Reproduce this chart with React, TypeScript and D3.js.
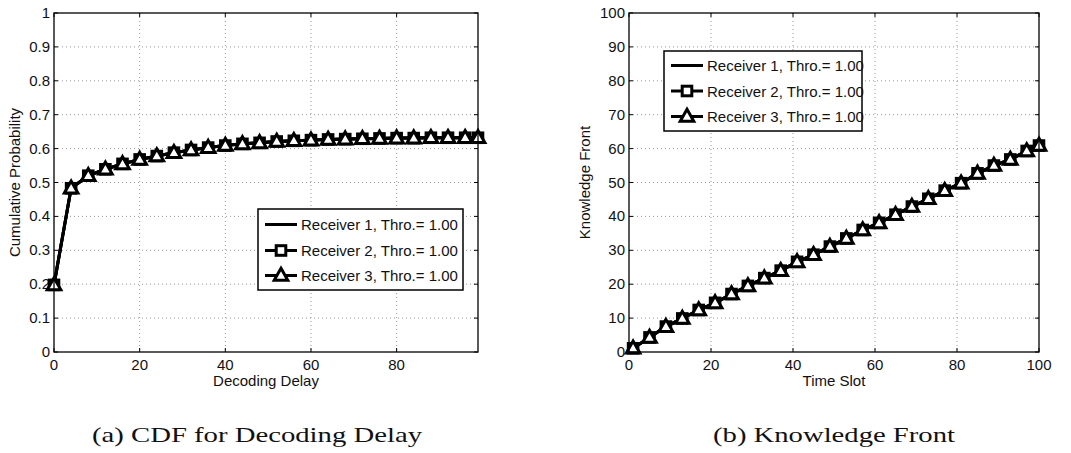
import React from 'react';
import * as d3 from 'd3';

// ---------- data ----------
const cdfDelay = [0, 4, 8, 12, 16, 20, 24, 28, 32, 36, 40, 44, 48, 52, 56, 60, 64, 68, 72, 76, 80, 84, 88, 92, 96, 99];
const cdfProb = [0.198, 0.483, 0.52, 0.539, 0.555, 0.568, 0.578, 0.588, 0.596, 0.603, 0.609, 0.614, 0.617, 0.621, 0.623, 0.625, 0.627, 0.628, 0.629, 0.63, 0.631, 0.631, 0.632, 0.632, 0.632, 0.632];
const timeSlots = [1, 5, 9, 13, 17, 21, 25, 29, 33, 37, 41, 45, 49, 53, 57, 61, 65, 69, 73, 77, 81, 85, 89, 93, 97, 100];
const knowledgeFront = [1.1, 4.3, 7.5, 9.9, 12.4, 14.5, 17.1, 19.5, 21.8, 24.0, 26.6, 28.7, 31.1, 33.5, 36.0, 38.1, 40.5, 42.9, 45.2, 47.6, 49.8, 52.7, 55.0, 56.8, 59.3, 60.9];
const cdfXTicks = [0, 20, 40, 60, 80];
const cdfYTicks = [0, 0.1, 0.2, 0.3, 0.4, 0.5, 0.6, 0.7, 0.8, 0.9, 1];
const kfXTicks = [0, 20, 40, 60, 80, 100];
const kfYTicks = [0, 10, 20, 30, 40, 50, 60, 70, 80, 90, 100];
const seriesNames = ['Receiver 1, Thro.= 1.00', 'Receiver 2, Thro.= 1.00', 'Receiver 3, Thro.= 1.00'];
const seriesMarkers = ['none', 'square', 'triangle'];

const SANS = "'Liberation Sans', Arial, Helvetica, sans-serif";
const SERIF = "'Liberation Serif', 'Times New Roman', serif";
const FS = 15;

function Marker({ kind, x, y }: { kind: string; x: number; y: number }) {
  if (kind === 'square')
    return <rect x={x - 4.8} y={y - 4.8} width={9.6} height={9.6} fill="#fff" stroke="#000" strokeWidth={3} />;
  if (kind === 'triangle')
    return <path d={`M${x},${y - 7.2} L${x + 6.8},${y + 4.8} L${x - 6.8},${y + 4.8} Z`} fill="#fff" stroke="#000" strokeWidth={3} strokeLinejoin="miter" />;
  return null;
}

type PanelProps = {
  xs: number[]; ys: number[]; xDomain: [number, number]; yDomain: [number, number];
  xTicks: number[]; yTicks: number[]; fmtY: (v: number) => string;
  box: { x0: number; x1: number; y0: number; y1: number };
  xLabel: string; yLabel: string; yLabelX: number;
  legend: { x: number; y: number; w: number; h: number; rows: number[] };
  caption: string; captionX: number; captionW: number;
};

function Panel(p: PanelProps) {
  const x = d3.scaleLinear().domain(p.xDomain).range([p.box.x0, p.box.x1]);
  const y = d3.scaleLinear().domain(p.yDomain).range([p.box.y1, p.box.y0]);
  const pts = p.xs.map((v, i) => [x(v), y(p.ys[i])] as [number, number]);
  const line = d3.line()(pts) || '';
  const { x0, x1, y0, y1 } = p.box;
  const lg = p.legend;
  return (
    <g>
      {/* grid */}
      {p.xTicks.filter(t => x(t) > x0 + 0.5 && x(t) < x1 - 0.5).map(t => (
        <line key={'gx' + t} x1={x(t)} x2={x(t)} y1={y0} y2={y1} stroke="#999" strokeWidth={1} strokeDasharray="1,3" />
      ))}
      {p.yTicks.filter(t => y(t) > y0 + 0.5 && y(t) < y1 - 0.5).map(t => (
        <line key={'gy' + t} x1={x0} x2={x1} y1={y(t)} y2={y(t)} stroke="#999" strokeWidth={1} strokeDasharray="1,3" />
      ))}
      {/* ticks */}
      {p.xTicks.map(t => (
        <g key={'tx' + t}>
          <line x1={x(t)} x2={x(t)} y1={y1} y2={y1 - 4} stroke="#000" />
          <line x1={x(t)} x2={x(t)} y1={y0} y2={y0 + 4} stroke="#000" />
          <text x={x(t)} y={y1 + 18} fontSize={FS} fontFamily={SANS} textAnchor="middle" fill="#111">{t}</text>
        </g>
      ))}
      {p.yTicks.map(t => (
        <g key={'ty' + t}>
          <line x1={x0} x2={x0 + 4} y1={y(t)} y2={y(t)} stroke="#000" />
          <line x1={x1} x2={x1 - 4} y1={y(t)} y2={y(t)} stroke="#000" />
          <text x={x0 - 4} y={y(t) + 5} fontSize={FS} fontFamily={SANS} textAnchor="end" fill="#111">{p.fmtY(t)}</text>
        </g>
      ))}
      {/* series: all three identical */}
      <path d={line} fill="none" stroke="#000" strokeWidth={3} strokeLinejoin="round" />
      <path d={line} fill="none" stroke="#000" strokeWidth={3} strokeLinejoin="round" />
      {pts.map((q, i) => <Marker key={'s' + i} kind="square" x={q[0]} y={q[1]} />)}
      <path d={line} fill="none" stroke="#000" strokeWidth={3} strokeLinejoin="round" />
      {pts.map((q, i) => <Marker key={'t' + i} kind="triangle" x={q[0]} y={q[1]} />)}
      {/* box */}
      <rect x={x0} y={y0} width={x1 - x0} height={y1 - y0} fill="none" stroke="#000" strokeWidth={1.3} />
      {/* axis labels */}
      <text x={(x0 + x1) / 2} y={y1 + 34} fontSize={FS} fontFamily={SANS} textAnchor="middle" fill="#111">{p.xLabel}</text>
      <text transform={`translate(${p.yLabelX},${(y0 + y1) / 2}) rotate(-90)`} fontSize={FS} fontFamily={SANS} textAnchor="middle" fill="#111">{p.yLabel}</text>
      {/* legend */}
      <rect x={lg.x} y={lg.y} width={lg.w} height={lg.h} fill="#fff" stroke="#000" strokeWidth={1.5} />
      {seriesNames.map((name, i) => (
        <g key={'lg' + i}>
          <line x1={lg.x + 7} x2={lg.x + 39} y1={lg.rows[i]} y2={lg.rows[i]} stroke="#000" strokeWidth={3} />
          <Marker kind={seriesMarkers[i]} x={lg.x + 23} y={lg.rows[i]} />
          <text x={lg.x + 43} y={lg.rows[i] + 5.5} fontSize={FS} fontFamily={SANS} fill="#111">{name}</text>
        </g>
      ))}
      {/* caption */}
      <text x={p.captionX} y={442} fontSize={21} fontFamily={SERIF} fill="#111" textLength={p.captionW} lengthAdjust="spacingAndGlyphs">{p.caption}</text>
    </g>
  );
}

export default function App() {
  return (
    <div style={{ position: 'absolute', left: 0, top: 0 }}>
      <svg width={1071} height={453} style={{ display: 'block', background: '#fff' }}>
        <Panel
          xs={cdfDelay} ys={cdfProb} xDomain={[0, 99]} yDomain={[0, 1]}
          xTicks={cdfXTicks} yTicks={cdfYTicks} fmtY={v => String(Math.round(v * 10) / 10)}
          box={{ x0: 54, x1: 478, y0: 13, y1: 352 }}
          xLabel="Decoding Delay" yLabel="Cumulative Probability" yLabelX={20}
          legend={{ x: 258, y: 209, w: 205, h: 81, rows: [224.5, 250.5, 275.5] }}
          caption="(a) CDF for Decoding Delay" captionX={92} captionW={330}
        />
        <Panel
          xs={timeSlots} ys={knowledgeFront} xDomain={[0, 100]} yDomain={[0, 100]}
          xTicks={kfXTicks} yTicks={kfYTicks} fmtY={v => String(v)}
          box={{ x0: 629, x1: 1039, y0: 13, y1: 352 }}
          xLabel="Time Slot" yLabel="Knowledge Front" yLabelX={590}
          legend={{ x: 664, y: 51, w: 198, h: 80, rows: [65.5, 91, 116.5] }}
          caption="(b) Knowledge Front" captionX={713} captionW={242}
        />
      </svg>
    </div>
  );
}
